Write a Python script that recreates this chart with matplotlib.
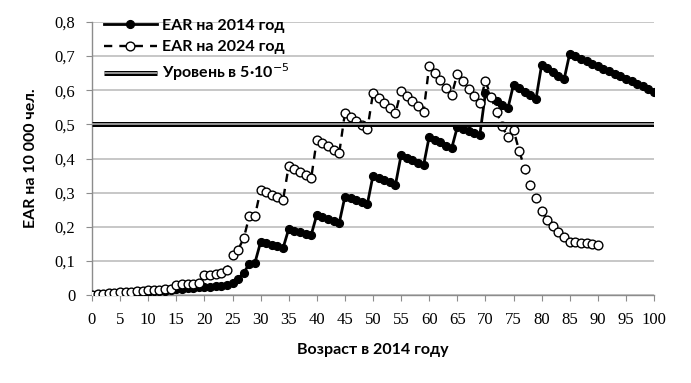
"""
EAR by age: 2014 vs 2024 with the 5e-5 risk level
"""

import numpy as np
import matplotlib
matplotlib.use("Agg")
import matplotlib.pyplot as plt
import matplotlib.patheffects as pe


# Ages (category axis)
ages_2014 = list(range(0, 101))
ages_2024 = list(range(0, 91))

# EAR per 10 000 people
ear_2014 = [
    0.000, 0.001, 0.002, 0.003, 0.004, 0.005, 0.006, 0.007, 0.008, 0.009,
    0.010, 0.011, 0.012, 0.013, 0.014, 0.018, 0.019, 0.020, 0.021, 0.022,
    0.023, 0.024, 0.025, 0.027, 0.030, 0.036, 0.048, 0.065, 0.092, 0.095,
    0.155, 0.151, 0.147, 0.143, 0.138,
    0.193, 0.189, 0.185, 0.180, 0.176,
    0.235, 0.229, 0.223, 0.218, 0.212,
    0.288, 0.283, 0.278, 0.272, 0.267,
    0.350, 0.343, 0.336, 0.330, 0.323,
    0.410, 0.402, 0.395, 0.387, 0.380,
    0.464, 0.455, 0.447, 0.438, 0.430,
    0.492, 0.486, 0.480, 0.474, 0.468,
    0.591, 0.580, 0.569, 0.558, 0.547,
    0.616, 0.606, 0.595, 0.585, 0.574,
    0.674, 0.664, 0.653, 0.643, 0.632,
    0.707, 0.700, 0.692, 0.685, 0.678, 0.670, 0.663, 0.655,
    0.648, 0.641, 0.633, 0.626, 0.618, 0.611, 0.604, 0.596,
]

ear_2024 = [
    0.000, 0.002, 0.004, 0.005, 0.006, 0.008, 0.009, 0.010, 0.011, 0.012,
    0.014, 0.015, 0.016, 0.017, 0.018, 0.030, 0.031, 0.032, 0.032, 0.034,
    0.058, 0.060, 0.062, 0.064, 0.074, 0.118, 0.133, 0.166, 0.232, 0.232,
    0.308, 0.301, 0.294, 0.286, 0.279,
    0.378, 0.369, 0.360, 0.351, 0.342,
    0.455, 0.445, 0.436, 0.426, 0.417,
    0.533, 0.521, 0.509, 0.498, 0.486,
    0.591, 0.577, 0.562, 0.548, 0.533,
    0.599, 0.584, 0.568, 0.553, 0.537,
    0.671, 0.650, 0.629, 0.607, 0.586,
    0.648, 0.627, 0.605, 0.584, 0.562,
    0.628, 0.580, 0.537, 0.494, 0.462,
    0.484, 0.423, 0.370, 0.323, 0.284,
    0.247, 0.220, 0.202, 0.186, 0.169,
    0.156, 0.154, 0.152, 0.151, 0.150, 0.147,
]

# Risk level 5*10^-5 == 0.5 per 10 000
level_ages = [0, 100]
level_vals = [0.5, 0.5]

x_ticks = list(range(0, 101, 5))
y_ticks = [0, 0.1, 0.2, 0.3, 0.4, 0.5, 0.6, 0.7, 0.8]
y_tick_labels = ["0", "0,1", "0,2", "0,3", "0,4", "0,5", "0,6", "0,7", "0,8"]

legend_labels = ["EAR на 2014 год", "EAR на 2024 год", "Уровень в 5·10$^{-5}$"]
x_title = "Возраст в 2014 году"
y_title = "EAR на 10 000 чел."


sans = ["Lato", "DejaVu Sans"]
serif = ["Liberation Serif", "DejaVu Serif"]

fig = plt.figure(figsize=(6.91, 3.83), dpi=100)
ax = fig.add_axes([92 / 691, 1 - 295 / 383, 562 / 691, 273 / 383])

# Series
ax.plot(ages_2014, ear_2014, color="black", lw=2.0, marker="o", ms=5.6,
        mfc="black", mec="black", label=legend_labels[0], zorder=3)
ax.plot(ages_2024, ear_2024, color="black", lw=1.7, ls=(0, (3.5, 3)),
        marker="o", ms=6.3, mfc="white", mec="black", mew=1.0,
        label=legend_labels[1], zorder=4)
ax.plot(level_ages, level_vals, color="#a0a0a0", lw=1.3, label=legend_labels[2],
        solid_capstyle="butt", zorder=5,
        path_effects=[pe.Stroke(linewidth=3.6, foreground="black"), pe.Normal()])

# Axes styling
ax.set_xlim(0, 100)
ax.set_ylim(0, 0.8)
ax.set_xticks(x_ticks)
ax.set_yticks(y_ticks)
ax.set_yticklabels(y_tick_labels)
ax.grid(axis="y", color="#b8b8b8", lw=1.1)
ax.set_axisbelow(True)
for side in ["top", "right"]:
    ax.spines[side].set_visible(False)
for side in ["left", "bottom"]:
    ax.spines[side].set_color("#8c8c8c")
    ax.spines[side].set_linewidth(1.0)
ax.tick_params(axis="both", direction="out", length=4, width=0.8, color="#8c8c8c")
ax.tick_params(axis="y", pad=8)
ax.tick_params(axis="x", pad=8)
for lbl in ax.get_xticklabels() + ax.get_yticklabels():
    lbl.set_family(serif)
    lbl.set_fontsize(12)

ax.set_xlabel(x_title, family=sans, fontsize=11.5, fontweight="bold", labelpad=11)
ax.set_ylabel(y_title, family=sans, fontsize=11.5, fontweight="bold", labelpad=12)

leg = ax.legend(loc="upper left", bbox_to_anchor=(0.01, 1.035), frameon=False,
                handlelength=3.3, handletextpad=0.35, labelspacing=0.45,
                borderaxespad=0, numpoints=1,
                prop={"family": sans, "size": 11.5, "weight": "bold"})

fig.savefig("out.png", dpi=100)
